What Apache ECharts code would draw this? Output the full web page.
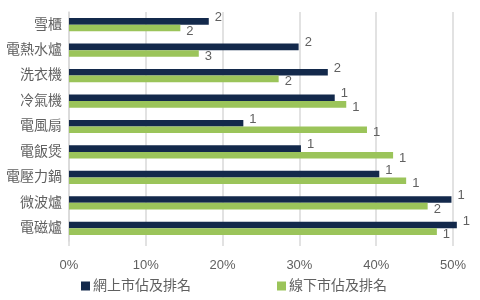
<!DOCTYPE html>
<html><head><meta charset="utf-8">
<script src="https://cdn.jsdelivr.net/npm/echarts@6/dist/echarts.min.js"></script>
<style>html,body{margin:0;padding:0;background:#fff}#c{width:480px;height:300px}</style>
</head><body><div id="c"></div>
<script>
const categories = ['雪櫃','電熱水爐','洗衣機','冷氣機','電風扇','電飯煲','電壓力鍋','微波爐','電磁爐'];
const onlineShare = [0.182,0.299,0.337,0.346,0.227,0.302,0.404,0.498,0.505];
const offlineShare = [0.145,0.169,0.273,0.361,0.388,0.422,0.439,0.467,0.479];
const onlineRank = [2,2,2,1,1,1,1,1,1];
const offlineRank = [2,3,2,1,1,1,1,2,1];
const tickLabels = ['0%','10%','20%','30%','40%','50%'];
const seriesNames = ['網上市佔及排名','線下市佔及排名'];

const FONT = '"Liberation Sans", "Noto Sans CJK TC", sans-serif';
const GRAY = '#606060';
const chart = echarts.init(document.getElementById('c'), null, {renderer:'canvas'});
chart.setOption({
  animation:false,
  textStyle:{fontFamily:FONT},
  grid:{left:69,right:27,top:12,bottom:59},
  legend:{
    bottom:2, left:76, itemGap:86, itemWidth:9, itemHeight:9, icon:'rect',
    textStyle:{fontSize:14, color:GRAY, fontFamily:FONT, padding:[0,0,0,-2]},
    data:seriesNames
  },
  xAxis:{
    type:'value', min:0, max:0.5, interval:0.1,
    axisLine:{show:false},
    axisTick:{show:true, length:5, lineStyle:{color:'#d9d9d9', width:1.5}},
    splitLine:{show:true, lineStyle:{color:'#d9d9d9', width:1.5}},
    axisLabel:{fontSize:13, color:GRAY, margin:18, formatter:(v)=>tickLabels[Math.round(v*10)]}
  },
  yAxis:{
    type:'category', inverse:true, data:categories,
    axisLine:{show:true, lineStyle:{color:'#d9d9d9', width:1.5}},
    axisTick:{show:false},
    axisLabel:{fontSize:14, color:GRAY, margin:7}
  },
  series:[
    {name:seriesNames[0], type:'bar', data:onlineShare, barGap:'0%', barCategoryGap:'48%', clip:false,
     itemStyle:{color:'#13294b'},
     label:{show:true, position:'right', distance:6, offset:[0,-4], fontSize:13, color:GRAY,
            formatter:(p)=>String(onlineRank[p.dataIndex])}},
    {name:seriesNames[1], type:'bar', data:offlineShare, barGap:'0%', barCategoryGap:'48%', clip:false,
     itemStyle:{color:'#9bc45a'},
     label:{show:true, position:'right', distance:6, offset:[0,3], fontSize:13, color:GRAY,
            formatter:(p)=>String(offlineRank[p.dataIndex])}}
  ]
});
</script></body></html>
